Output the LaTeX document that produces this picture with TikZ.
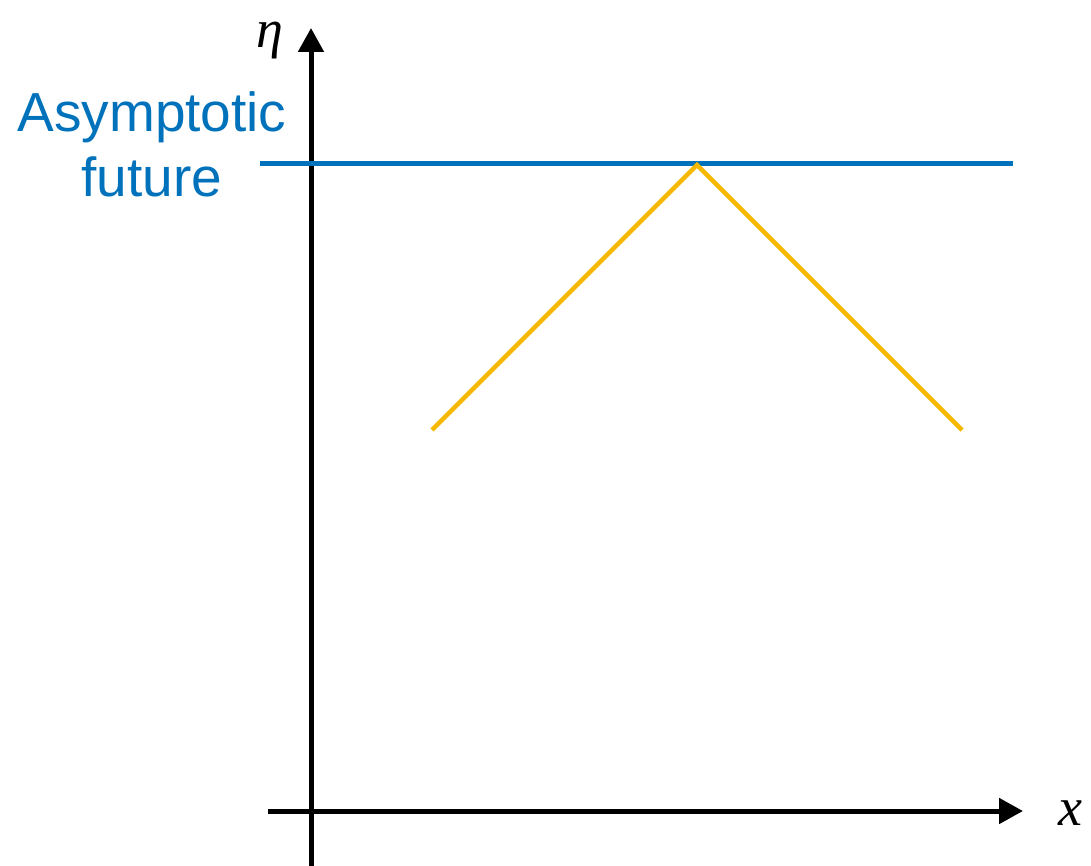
\documentclass[tikz,border=0pt]{standalone}
\usepackage{fontspec}
\setmainfont{Liberation Sans}
\newfontfamily\mathlikefont{Liberation Serif}
\usetikzlibrary{arrows.meta}
\definecolor{futblue}{RGB}{0,114,187}
\definecolor{conorange}{RGB}{246,183,0}
\tikzset{
  axisline/.style={line width=5pt, black, -{Triangle[length=24pt,width=25pt]}},
  futureline/.style={line width=5pt, futblue},
  coneline/.style={line width=4.5pt, conorange, line join=miter},
  bluelabel/.style={inner sep=0pt, anchor=base, text=futblue, font=\fontsize{55}{66}\selectfont},
  axislabel/.style={inner sep=0pt, font=\mathlikefont\itshape\fontsize{54}{64}\selectfont}
}
\begin{document}
\begin{tikzpicture}[x=1pt,y=-1pt]
\useasboundingbox (0,0) rectangle (1091,866);
\coordinate (ybot) at (311,866);
\coordinate (ytop) at (311,28);
\coordinate (xl) at (268,811);
\coordinate (xr) at (1023,811);
\coordinate (fl) at (260,164);
\coordinate (fr) at (1013,164);
\coordinate (cl) at (432,430);
\coordinate (cp) at (697,165);
\coordinate (cr) at (962,430);
\draw[axisline] (ybot) -- (ytop);
\draw[axisline] (xl) -- (xr);
\draw[futureline] (fl) -- (fr);
\draw[coneline] (cl) -- (cp) -- (cr);
\node[bluelabel] (asym) at (152,132) {Asymptotic};
\node[bluelabel] (fut) at (152,197) {future};
\node[axislabel, anchor=base] (eta) at (270,48) {η};
\node[axislabel, anchor=base] (xlab) at (1070,825) {x};
\end{tikzpicture}
\end{document}
